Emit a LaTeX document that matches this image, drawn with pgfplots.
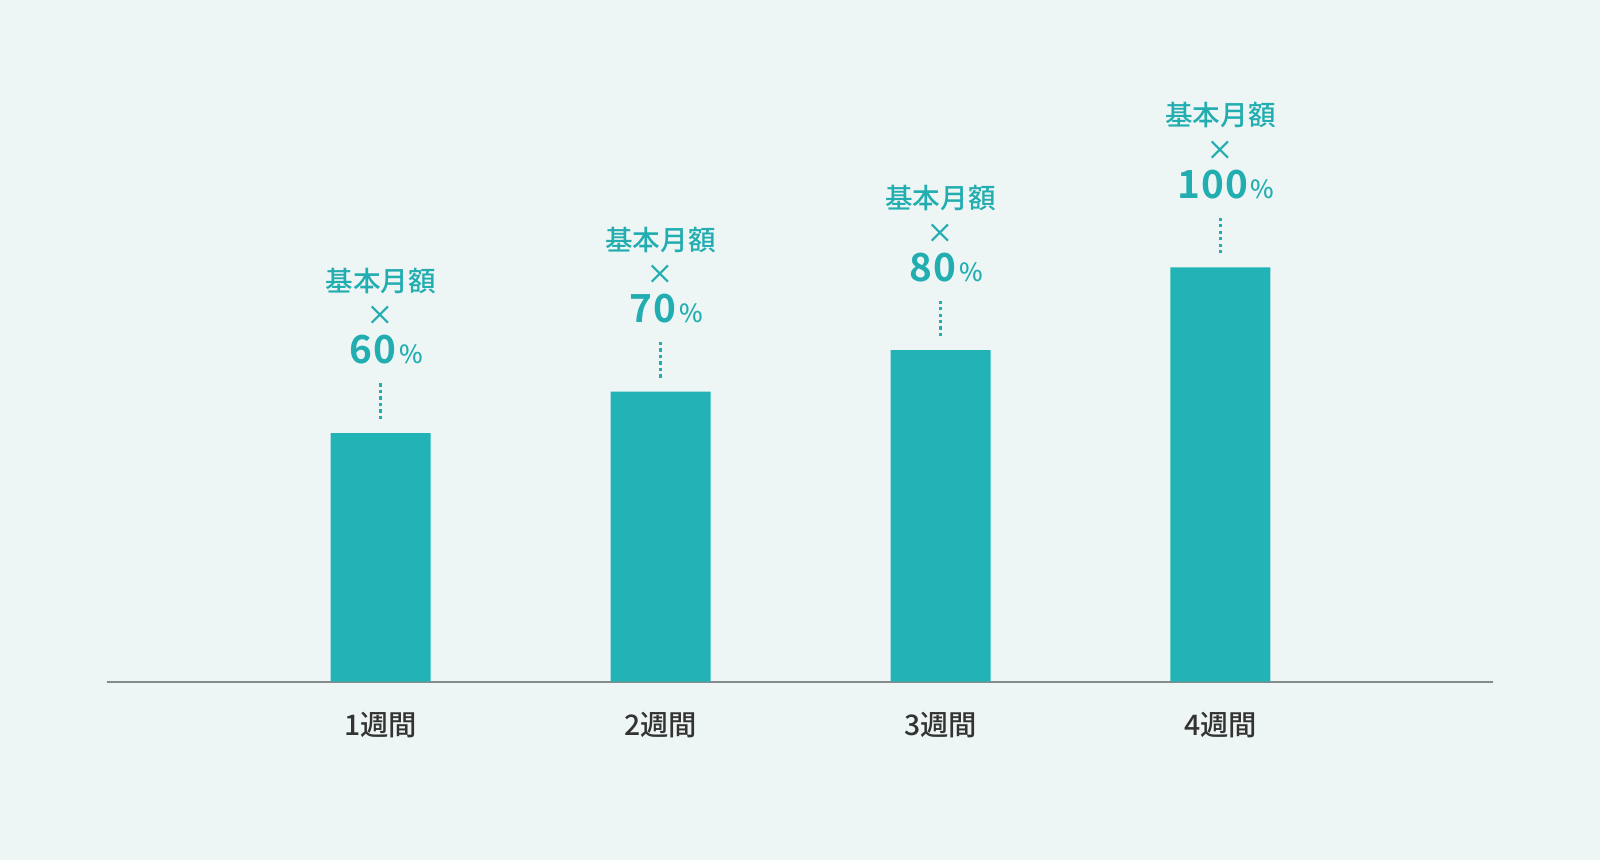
\documentclass[border=0pt]{standalone}
\usepackage{fontspec}
\setmainfont{Noto Sans CJK JP Medium}
\newfontfamily\numfont{Noto Sans CJK JP Bold}[LetterSpace=3]
\usepackage{pgfplots}
\pgfplotsset{compat=1.18}
\definecolor{bg}{HTML}{EEF6F5}
\definecolor{barc}{HTML}{22B3B7}
\definecolor{tl}{HTML}{22ADB1}
\definecolor{axc}{HTML}{858B8C}
\definecolor{txt}{HTML}{333333}
\begin{document}
\begin{tikzpicture}
\fill[bg] (0,0) rectangle (15.68cm,8.43cm);
\begin{axis}[
  at={(1.05cm,1.75cm)}, anchor=south west,
  scale only axis, width=13.58cm, height=4.06cm,
  xmin=-0.977, xmax=3.973, ymin=0, ymax=100,
  axis x line=bottom, axis y line=none,
  x axis line style={-, axc, line width=0.6pt},
  xtick={0,1,2,3},
  xticklabels={1週間,2週間,3週間,4週間},
  major tick length=0pt,
  xticklabel style={anchor=north, inner sep=0pt, yshift=-0.29cm,
    font=\fontsize{7.9pt}{9pt}\selectfont, text=txt},
  ytick=\empty,
  clip=false,
  /pgf/number format/assume math mode=true,
]
\addplot[ybar, bar width=0.98cm, fill=barc, draw=none,
  point meta=y,
  nodes near coords={基本月額\\×\\[1.0pt]\hspace*{3pt}{\numfont\fontsize{10.8pt}{12pt}\selectfont\pgfmathprintnumber{\pgfplotspointmeta}}\kern0.8pt{\fontsize{7pt}{8pt}\selectfont\%}},
  every node near coord/.append style={anchor=south, align=center, inner sep=0pt, text=tl, yshift=0.665cm,
    font=\fontsize{7.7pt}{9.6pt}\selectfont},
] coordinates {(0,60) (1,70) (2,80) (3,100)};
\addplot[tl, line width=0.7pt, dash pattern=on 0.9pt off 0.9pt] coordinates {(0,63.4) (0,72)};
\addplot[tl, line width=0.7pt, dash pattern=on 0.9pt off 0.9pt] coordinates {(1,73.4) (1,82)};
\addplot[tl, line width=0.7pt, dash pattern=on 0.9pt off 0.9pt] coordinates {(2,83.4) (2,92)};
\addplot[tl, line width=0.7pt, dash pattern=on 0.9pt off 0.9pt] coordinates {(3,103.4) (3,112)};
\end{axis}
\end{tikzpicture}
\end{document}
